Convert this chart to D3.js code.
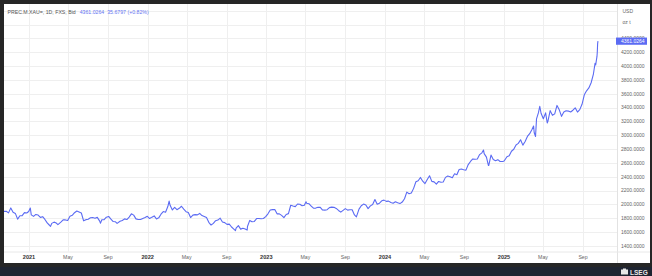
<!DOCTYPE html>
<html>
<head>
<meta charset="utf-8">
<script src="https://cdn.jsdelivr.net/npm/d3@7"></script>
<style>
  html, body { margin:0; padding:0; background:#262626; }
  svg { display:block; }
  text { font-family: "Liberation Sans", Arial, sans-serif; }
</style>
</head>
<body>
<svg id="chart" width="652" height="276"></svg>
<script>
// weekly closes, XAU spot (read off the picture / approximated)
var prices2020 = [["10-02",1900],["10-09",1930],["10-16",1900],["10-23",1902],["10-30",1879],["11-06",1951],["11-13",1889],["11-20",1871],["11-27",1788],["12-04",1838],["12-11",1839],["12-18",1882],["12-25",1877],["12-31",1898]];
var prices2021 = [["01-05",1950],["01-08",1850],["01-15",1828],["01-22",1856],["01-29",1848],["02-05",1814],["02-12",1824],["02-19",1784],["02-26",1734],["03-05",1700],["03-08",1683],["03-12",1727],["03-19",1745],["03-26",1732],["03-31",1708],["04-09",1744],["04-16",1777],["04-23",1777],["04-30",1769],["05-07",1831],["05-14",1844],["05-21",1881],["05-28",1905],["06-04",1891],["06-11",1877],["06-18",1764],["06-25",1781],["07-02",1787],["07-09",1808],["07-16",1812],["07-23",1802],["07-30",1814],["08-06",1763],["08-09",1730],["08-13",1780],["08-20",1781],["08-27",1817],["09-03",1827],["09-10",1788],["09-17",1754],["09-24",1750],["09-29",1727],["10-08",1757],["10-15",1768],["10-22",1792],["10-29",1783],["11-05",1818],["11-12",1865],["11-19",1846],["11-26",1792],["12-03",1783],["12-10",1783],["12-17",1798],["12-24",1811],["12-31",1829]];
var prices2022 = [["01-07",1797],["01-14",1817],["01-21",1835],["01-28",1791],["02-04",1807],["02-11",1860],["02-18",1898],["02-25",1889],["03-04",1970],["03-08",2050],["03-11",1988],["03-18",1921],["03-25",1958],["04-01",1925],["04-08",1945],["04-15",1975],["04-22",1932],["04-29",1896],["05-06",1883],["05-13",1811],["05-20",1846],["05-27",1853],["06-03",1850],["06-10",1871],["06-17",1840],["06-24",1827],["07-01",1811],["07-08",1742],["07-15",1703],["07-22",1727],["07-29",1766],["08-05",1775],["08-12",1802],["08-19",1747],["08-26",1738],["09-02",1712],["09-09",1716],["09-16",1675],["09-23",1644],["09-28",1622],["09-30",1660],["10-07",1695],["10-14",1644],["10-21",1657],["10-28",1645],["11-03",1630],["11-04",1681],["11-11",1770],["11-18",1751],["11-25",1755],["12-02",1797],["12-09",1797],["12-16",1793],["12-23",1798],["12-30",1824]];
var prices2023 = [["01-06",1865],["01-13",1920],["01-20",1926],["01-27",1928],["02-03",1865],["02-10",1865],["02-17",1842],["02-24",1811],["03-03",1856],["03-10",1868],["03-17",1989],["03-24",1978],["03-31",1969],["04-07",2007],["04-14",2004],["04-21",1983],["04-28",1990],["05-03",2040],["05-05",2017],["05-12",2011],["05-19",1978],["05-26",1946],["06-02",1948],["06-09",1961],["06-16",1958],["06-23",1920],["06-30",1919],["07-07",1925],["07-14",1955],["07-21",1962],["07-28",1959],["08-04",1943],["08-11",1914],["08-18",1889],["08-25",1915],["09-01",1940],["09-08",1919],["09-15",1924],["09-22",1925],["09-29",1849],["10-05",1820],["10-13",1933],["10-20",1981],["10-27",2006],["11-03",1992],["11-10",1940],["11-17",1980],["11-24",2001],["12-01",2072],["12-08",2004],["12-15",2019],["12-22",2053],["12-29",2063]];
var prices2024 = [["01-05",2045],["01-12",2049],["01-19",2029],["01-26",2018],["02-02",2039],["02-09",2024],["02-16",2013],["02-23",2035],["03-01",2083],["03-08",2179],["03-15",2155],["03-22",2165],["03-29",2233],["04-05",2329],["04-12",2344],["04-19",2391],["04-26",2337],["05-03",2302],["05-10",2360],["05-17",2415],["05-24",2334],["05-31",2327],["06-07",2293],["06-14",2333],["06-21",2322],["06-28",2326],["07-05",2392],["07-12",2411],["07-19",2400],["07-26",2386],["08-02",2443],["08-09",2431],["08-16",2507],["08-23",2512],["08-30",2503],["09-06",2497],["09-13",2577],["09-20",2622],["09-27",2658],["10-04",2653],["10-11",2657],["10-18",2721],["10-25",2747],["10-30",2788],["11-01",2736],["11-08",2685],["11-14",2565],["11-15",2563],["11-22",2715],["11-29",2650],["12-06",2633],["12-13",2648],["12-20",2622],["12-27",2621],["12-31",2625]];
var prices2025 = [["01-03",2640],["01-10",2690],["01-17",2703],["01-24",2770],["01-31",2798],["02-07",2861],["02-14",2883],["02-21",2936],["02-28",2858],["03-07",2910],["03-14",2984],["03-21",3023],["03-28",3084],["04-02",3134],["04-04",3037],["04-08",2983],["04-11",3237],["04-17",3327],["04-21",3420],["04-25",3319],["05-02",3240],["05-09",3325],["05-14",3178],["05-16",3203],["05-23",3357],["05-30",3289],["06-06",3310],["06-13",3432],["06-20",3368],["06-27",3274],["07-04",3337],["07-11",3355],["07-18",3350],["07-25",3337],["08-01",3363],["08-08",3397],["08-15",3336],["08-22",3371],["08-29",3448],["09-05",3586],["09-12",3643],["09-19",3685],["09-26",3760],["10-03",3886],["10-08",4040],["10-10",4018],["10-14",4140],["10-15",4208],["10-16",4325.35],["10-17",4361.0264]];

var yTicks = [1400,1600,1800,2000,2200,2400,2600,2800,3000,3200,3400,3600,3800,4000,4200,4400,4600,4800];
var lastPrice = "4361.0264";
var change = "35.6797 (+0.82%)";
var title = "PREC.M.XAU=, 1D, FXS, Bid";

var parse = d3.timeParse("%Y-%m-%d");
var data = [];
[[2020,prices2020],[2021,prices2021],[2022,prices2022],[2023,prices2023],[2024,prices2024],[2025,prices2025]].forEach(function (yr) {
	yr[1].forEach(function (p) { data.push({date: parse(yr[0] + "-" + p[0]), value: p[1]}); });
});

var panel = {left:4, top:4, right:650, bottom:263};
var plot = {left:4, top:4, right:617, bottom:251.5};

var svg = d3.select("#chart");

// white panel + bottom strip
svg.append("rect").attr("x",panel.left).attr("y",panel.top)
	.attr("width",panel.right-panel.left).attr("height",panel.bottom-panel.top).attr("fill","#fff");
svg.append("rect").attr("x",0).attr("y",267).attr("width",652).attr("height",9).attr("fill","#1e2431");

var x = d3.scaleTime()
	.domain([new Date(2021,0,1), new Date(2025,0,1)])
	.range([29, 504]);
var y = d3.scaleLinear().domain([1400, 4200]).range([246, 52.3]);

// grid
var xTicks = x.ticks(d3.timeMonth.every(4)).filter(function (d) { return x(d) > plot.left && x(d) < plot.right; });
xTicks = d3.timeMonth.range(new Date(2020,8,1), new Date(2026,0,1)).filter(function (d) {
	return d.getMonth() % 4 === 0 && x(d) > plot.left && x(d) < plot.right;
});

svg.append("g").selectAll("line").data(yTicks).join("line")
	.attr("x1",plot.left).attr("x2",plot.right)
	.attr("y1",function (d) { return Math.round(y(d)) + 0.5; })
	.attr("y2",function (d) { return Math.round(y(d)) + 0.5; })
	.attr("stroke","#efefef").attr("stroke-width",1);

svg.append("g").selectAll("line").data(xTicks).join("line")
	.attr("x1",function (d) { return Math.round(x(d)) + 0.5; })
	.attr("x2",function (d) { return Math.round(x(d)) + 0.5; })
	.attr("y1",plot.top).attr("y2",plot.bottom)
	.attr("stroke","#efefef").attr("stroke-width",1);

// axis borders
svg.append("line").attr("x1",plot.right+0.5).attr("x2",plot.right+0.5).attr("y1",panel.top).attr("y2",panel.bottom)
	.attr("stroke","#e2e2e2");
svg.append("line").attr("x1",plot.left).attr("x2",panel.right).attr("y1",plot.bottom+0.5).attr("y2",plot.bottom+0.5)
	.attr("stroke","#e8e8e8");

// price line
svg.append("clipPath").attr("id","clip").append("rect")
	.attr("x",plot.left).attr("y",plot.top).attr("width",plot.right-plot.left).attr("height",plot.bottom-plot.top);

var line = d3.line().x(function (d) { return x(d.date); }).y(function (d) { return y(d.value); });
svg.append("path").datum(data)
	.attr("clip-path","url(#clip)")
	.attr("fill","none").attr("stroke","#5b6bf3").attr("stroke-width",1.1)
	.attr("stroke-linejoin","round")
	.attr("d",line);

// x labels
var fmtYear = d3.timeFormat("%Y"), fmtMonth = d3.timeFormat("%b");
svg.append("g").selectAll("text").data(xTicks).join("text")
	.attr("x",function (d) { return x(d); }).attr("y",259)
	.attr("text-anchor","middle")
	.attr("font-size",function (d) { return d.getMonth() === 0 ? 5.6 : 5.2; })
	.attr("font-weight",function (d) { return d.getMonth() === 0 ? "bold" : "normal"; })
	.attr("fill",function (d) { return d.getMonth() === 0 ? "#333" : "#666"; })
	.text(function (d) { return d.getMonth() === 0 ? fmtYear(d) : fmtMonth(d); });

// y labels
var fmtY = d3.format(".4f");
svg.append("g").selectAll("text").data(yTicks.filter(function (d) { return d <= 4400; })).join("text")
	.attr("x",621).attr("y",function (d) { return y(d) + 1.8; })
	.attr("font-size",5).attr("fill","#666")
	.text(function (d) { return fmtY(d); });

svg.append("text").attr("x",622.5).attr("y",13).attr("font-size",5).attr("fill","#666").text("USD");
svg.append("text").attr("x",622.5).attr("y",24).attr("font-size",5).attr("fill","#666").text("oz t");

// current price badge
var yLast = y(+lastPrice);
svg.append("rect").attr("x",616).attr("y",yLast-3.6).attr("width",31).attr("height",7.2).attr("fill","#5b6bf3");
svg.append("text").attr("x",621).attr("y",yLast+1.8).attr("font-size",5).attr("fill","#fff").text(lastPrice);

// header
var head = svg.append("text").attr("x",7.5).attr("y",13.5).attr("font-size",5.2);
head.append("tspan").attr("fill","#555").text(title);
head.append("tspan").attr("fill","#6575f2").attr("dx",4).text(lastPrice);
head.append("tspan").attr("fill","#6575f2").attr("dx",3).text(change);

// logo
var logo = svg.append("g").attr("transform","translate(621,268.5)");
logo.append("rect").attr("x",0).attr("y",1).attr("width",7).attr("height",5).attr("fill","#e8e8e8");
logo.append("rect").attr("x",2).attr("y",0).attr("width",3).attr("height",2).attr("fill","#e8e8e8");
logo.append("text").attr("x",9).attr("y",6).attr("font-size",6.5).attr("font-weight","bold")
	.attr("fill","#e8e8e8").text("LSEG");
</script>
</body>
</html>
